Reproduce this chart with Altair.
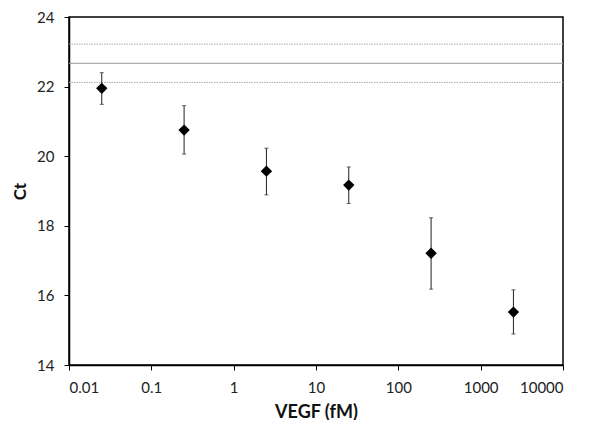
import altair as alt
import pandas as pd

# Data
vegf_fm = [0.025, 0.25, 2.5, 25, 250, 2500]
ct_mean = [21.95, 20.75, 19.57, 19.17, 17.21, 15.52]
ct_upper = [22.40, 21.45, 20.23, 19.69, 18.23, 16.16]
ct_lower = [21.49, 20.06, 18.89, 18.64, 16.18, 14.89]

blank_mean = [22.67]
blank_bounds = [23.22, 22.12]

x_ticks = [0.01, 0.1, 1, 10, 100, 1000, 10000]
y_ticks = [14, 16, 18, 20, 22, 24]

df = pd.DataFrame({"x": vegf_fm, "y": ct_mean, "hi": ct_upper, "lo": ct_lower})
df_mean = pd.DataFrame({"y": blank_mean})
df_bounds = pd.DataFrame({"y": blank_bounds})

FONT = "Lato"

xscale = alt.Scale(type="log", domain=[0.01, 10000], nice=False)
yscale = alt.Scale(domain=[14, 24], nice=False, zero=False)

xaxis = alt.Axis(values=x_ticks, format="~g", title="VEGF (fM)", grid=False,
                 tickSize=5, labelPadding=10, titlePadding=8,
                 labelFontSize=15, titleFontSize=18, titleFontWeight="bold",
                 labelColor="#222222", titleColor="#111111",
                 domainColor="#000000", tickColor="#000000", domainWidth=1.5,
                 labelFont=FONT, titleFont=FONT)
yaxis = alt.Axis(values=y_ticks, title="Ct", grid=False,
                 tickSize=5, labelPadding=10, titlePadding=7,
                 labelFontSize=15, titleFontSize=17, titleFontWeight="bold",
                 labelColor="#222222", titleColor="#111111",
                 domainColor="#000000", tickColor="#000000", domainWidth=1.5,
                 labelFont=FONT, titleFont=FONT)

mean_line = alt.Chart(df_mean).mark_rule(color="#9a9a9a", strokeWidth=1).encode(
    y=alt.Y("y:Q", scale=yscale, axis=yaxis)
)
bound_lines = alt.Chart(df_bounds).mark_rule(color="#a8a8a8", strokeWidth=1, strokeDash=[1.5, 1]).encode(
    y=alt.Y("y:Q", scale=yscale)
)

base = alt.Chart(df)
err = base.mark_rule(color="#222222", strokeWidth=1).encode(
    x=alt.X("x:Q", scale=xscale, axis=xaxis),
    y=alt.Y("lo:Q", scale=yscale),
    y2="hi:Q",
)
cap_hi = base.mark_tick(color="#222222", size=4, thickness=1, orient="horizontal").encode(
    x=alt.X("x:Q", scale=xscale), y=alt.Y("hi:Q", scale=yscale)
)
cap_lo = base.mark_tick(color="#222222", size=4, thickness=1, orient="horizontal").encode(
    x=alt.X("x:Q", scale=xscale), y=alt.Y("lo:Q", scale=yscale)
)
pts = base.mark_point(shape="diamond", filled=True, color="#000000", size=130, opacity=1).encode(
    x=alt.X("x:Q", scale=xscale), y=alt.Y("y:Q", scale=yscale)
)

chart = alt.layer(mean_line, bound_lines, err, cap_hi, cap_lo, pts).properties(
    width=494, height=348,
    autosize=alt.AutoSizeParams(type="none"),
    padding={"left": 61, "top": 9, "right": 28, "bottom": 55},
    background="white",
).configure_view(stroke="#000000", strokeWidth=1.5)

chart.save("out.html", embed_options={"renderer": "svg", "actions": False})
